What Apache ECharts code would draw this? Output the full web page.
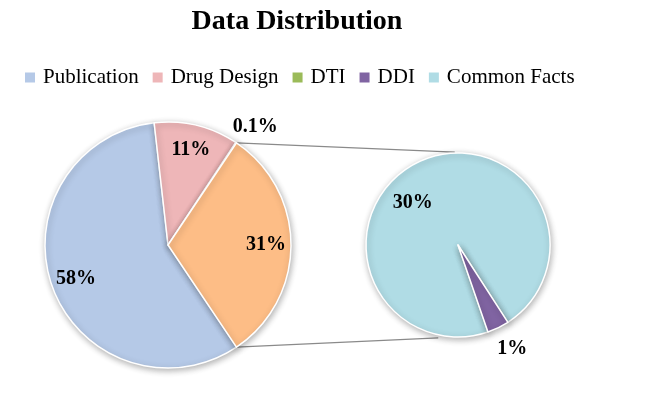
<!DOCTYPE html>
<html>
<head>
<meta charset="utf-8">
<script src="https://cdn.jsdelivr.net/npm/echarts@6/dist/echarts.min.js"></script>
<style>html,body{margin:0;padding:0;background:#fff}#c{width:654px;height:395px}</style>
</head>
<body>
<div id="c"></div>
<script>
// ---- data ----
const titleText = 'Data Distribution';
const legendNames = ['Publication', 'Drug Design', 'DTI', 'DDI', 'Common Facts'];
const mainNames = ['Publication', 'Drug Design', 'DTI'];
const mainValues = [57.6, 11.1, 0.1];
const subNames = ['Common Facts', 'DDI'];
const subValues = [30.0, 1.2];
const otherName = 'Other';

// ---- styles ----
const colors = {
  'Publication': '#b5c9e7',
  'Drug Design': '#eeb6b8',
  'DTI': '#9bbb59',
  'DDI': '#8064a2',
  'Common Facts': '#b0dce5',
  'Other': '#fdbd86'
};
const L = { cx: 168, cy: 245, r: 123 };
const R = { cx: 458, cy: 245, r: 92 };
const serif = '"Liberation Serif", "Times New Roman", serif';

const otherValue = subValues.reduce((a, b) => a + b, 0);
const total = mainValues.reduce((a, b) => a + b, 0) + otherValue;
const leftStart = -(otherValue / total) * 180;   // centre "Other" at 3 o'clock
const rightStart = -71;

function fmt(p) {
  const v = p.value;
  return (v < 1 ? v.toFixed(1) : Math.round(v)) + '%';
}

const leftData = mainNames.map((n, i) => ({ name: n, value: mainValues[i], itemStyle: { color: colors[n] } }))
  .concat([{ name: otherName, value: otherValue, itemStyle: { color: colors[otherName] } }]);
const rightData = subNames.map((n, i) => ({ name: n, value: subValues[i], itemStyle: { color: colors[n] } }));

const labelStyle = { color: '#000', fontFamily: serif, fontWeight: 'bold', fontSize: 20 };

const leftLabelData = leftData.map(d => {
  const o = { name: d.name, value: d.value };
  if (d.name === 'DTI') {
    o.label = { position: 'outside', offset: [-14, 0] };
    o.labelLine = { show: false, length: 19, length2: 0 };
  }
  return o;
});
const rightLabelData = rightData.map(d => {
  const o = { name: d.name, value: d.value };
  if (d.name === 'DDI') {
    o.label = { position: 'outside', offset: [-12, -1] };
    o.labelLine = { show: false, length: 25, length2: 0 };
  } else {
    o.label = { offset: [-13, 24] };
  }
  return o;
});

// connector lines between pies
function pt(c, r, deg) {
  const a = deg * Math.PI / 180;
  return [c.cx + r * Math.cos(a), c.cy - r * Math.sin(a)];
}
const half = (otherValue / total) * 180;
const p1 = pt(L, L.r, half), p2 = pt(L, L.r, -half);
const q1 = pt(R, R.r + 1, 92), q2 = pt(R, R.r + 3, 258);

const pieBase = {
  type: 'pie',
  clockwise: true,
  avoidLabelOverlap: false,
  emphasis: { disabled: true },
  labelLine: { show: false }
};

const option = {
  animation: false,
  backgroundColor: '#fff',
  title: {
    text: titleText,
    left: 292, top: 3, textAlign: 'center',
    textStyle: { fontFamily: serif, fontWeight: 'bold', fontSize: 28, color: '#000' }
  },
  legend: {
    data: legendNames,
    left: 18, top: 62,
    icon: 'rect', itemWidth: 12, itemHeight: 12, itemGap: 12,
    textStyle: { fontFamily: serif, fontSize: 21, color: '#000', padding: [0, 0, 0, 2] }
  },
  graphic: [
    { type: 'line', shape: { x1: p1[0], y1: p1[1], x2: q1[0], y2: q1[1] }, style: { stroke: '#8a8a8a', lineWidth: 1.2 }, z: 0 },
    { type: 'line', shape: { x1: p2[0], y1: p2[1], x2: q2[0], y2: q2[1] }, style: { stroke: '#8a8a8a', lineWidth: 1.2 }, z: 0 }
  ],
  series: [
    Object.assign({}, pieBase, {
      name: 'main', center: [L.cx, L.cy], radius: [0, L.r], startAngle: leftStart,
      label: { show: false },
      itemStyle: { borderColor: '#fff', borderWidth: 1.5, shadowBlur: 6, shadowOffsetX: 1, shadowOffsetY: 2, shadowColor: 'rgba(0,0,0,0.3)' },
      data: leftData
    }),
    Object.assign({}, pieBase, {
      name: 'sub', center: [R.cx, R.cy], radius: [0, R.r], startAngle: rightStart,
      label: { show: false },
      itemStyle: { borderColor: '#fff', borderWidth: 1.5, shadowBlur: 6, shadowOffsetX: 1, shadowOffsetY: 2, shadowColor: 'rgba(0,0,0,0.3)' },
      data: rightData
    }),
    Object.assign({}, pieBase, {
      name: 'mainLabels', center: [L.cx, L.cy], radius: [67, L.r], startAngle: leftStart, silent: true,
      itemStyle: { color: 'rgba(0,0,0,0)', borderWidth: 0 },
      label: Object.assign({ show: true, position: 'inside', formatter: fmt, distanceToLabelLine: 0 }, labelStyle),
      data: leftLabelData
    }),
    Object.assign({}, pieBase, {
      name: 'subLabels', center: [R.cx, R.cy], radius: [50, R.r], startAngle: rightStart, silent: true,
      itemStyle: { color: 'rgba(0,0,0,0)', borderWidth: 0 },
      label: Object.assign({ show: true, position: 'inside', formatter: fmt, distanceToLabelLine: 0 }, labelStyle),
      data: rightLabelData
    })
  ]
};

const chart = echarts.init(document.getElementById('c'), null, { renderer: 'canvas' });
chart.setOption(option);
</script>
</body>
</html>
